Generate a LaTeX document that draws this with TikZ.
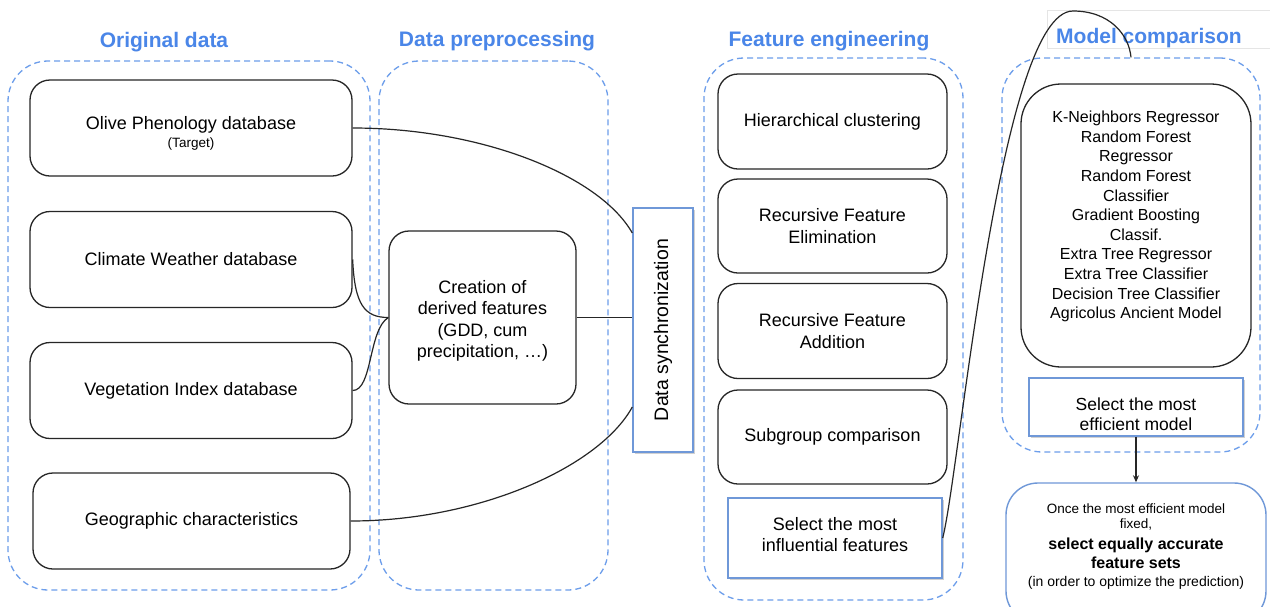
\documentclass[tikz,border=0pt]{standalone}
\usepackage{fontspec}
\setmainfont{Liberation Sans}
\usetikzlibrary{shadows,arrows.meta}
\definecolor{tblue}{HTML}{4A86E8}
\definecolor{dblue}{HTML}{6D9EEB}
\definecolor{bblue}{HTML}{6F98D8}
\newcommand{\modeltext}{K-Neighbors Regressor\\Random Forest\\Regressor\\Random Forest\\Classifier\\Gradient Boosting\\Classif.\\Extra Tree Regressor\\Extra Tree Classifier\\Decision Tree Classifier\\Agricolus Ancient Model}
\begin{document}
\begin{tikzpicture}[x=1pt,y=-1pt,
  grp/.style={draw=dblue, dash pattern=on 6pt off 4pt, line width=1.3pt, rounded corners=40pt, inner sep=0pt},
  title/.style={text=tblue, font=\fontsize{21}{25}\selectfont\bfseries, inner sep=0pt},
  bbox/.style={draw=black!85, line width=1.3pt, rounded corners=20pt, align=center, inner sep=0pt,
    font=\fontsize{18}{21.5}\selectfont},
  blbox/.style={draw=bblue, line width=1.4pt, fill=white, align=center, inner sep=0pt,
    font=\fontsize{18}{21.5}\selectfont,
    drop shadow={shadow xshift=1.5pt, shadow yshift=-2pt, fill=black, opacity=0.18}},
  conn/.style={draw=black!85, line width=1.2pt}
]
\useasboundingbox (0,0) rectangle (1270,606);
\fill[white] (0,0) rectangle (1270,606);

% faint rectangle behind the last title
\node[draw=black!10, line width=0.8pt, minimum width=228, minimum height=38, inner sep=0pt] (frame) at (1161,29) {};

% titles
\node[title] (t1) at (164,42) {Original data};
\node[title] (t2) at (497,41) {Data preprocessing};
\node[title] (t3) at (829,41) {Feature engineering};
\node[title] (t4) at (1149,38) {Model comparison};

% dashed groups
\node[grp, minimum width=362, minimum height=529] (g1) at (189,325.5) {};
\node[grp, minimum width=229, minimum height=529] (g2) at (493.5,325.5) {};
\node[grp, minimum width=259, minimum height=542] (g3) at (833.5,329) {};
\node[grp, minimum width=258, minimum height=394] (g4) at (1131,255) {};

% original data
\node[bbox, minimum width=322, minimum height=96] (olive) at (191,128)
  {\strut\\[-16pt]\raisebox{-3pt}{Olive Phenology database}\\[-1pt]{\fontsize{13.5}{16}\selectfont (Target)}};
\node[bbox, minimum width=322, minimum height=96] (clim) at (191,259.5) {Climate Weather database};
\node[bbox, minimum width=322, minimum height=96] (veg) at (191,390.5) {Vegetation Index database};
\node[bbox, minimum width=317, minimum height=96] (geo) at (191.5,521) {Geographic characteristics};

% preprocessing
\node[bbox, minimum width=187, minimum height=173] (der) at (482.5,317.5)
  {\strut\\[-16.5pt]Creation of\\ derived features\\ (GDD, cum\\ precipitation, …)};
\node[blbox, minimum width=60, minimum height=244,
  label={[rotate=90, font=\fontsize{19.5}{23}\selectfont]center:{Data synchronization}}] (sync) at (663,330) {};

% feature engineering
\node[bbox, minimum width=229, minimum height=95] (hc) at (832.5,121.5) {Hierarchical clustering};
\node[bbox, minimum width=229, minimum height=94] (rfe) at (832.5,226) {Recursive Feature\\Elimination};
\node[bbox, minimum width=229, minimum height=95] (rfa) at (832.5,331) {Recursive Feature\\Addition};
\node[bbox, minimum width=229, minimum height=94] (sub) at (832.5,437) {Subgroup comparison};
\node[blbox, minimum width=214, minimum height=80] (infl) at (835,538) {Select the most\\influential features\\[-14pt]\mbox{}};

% model comparison
\node[bbox, minimum width=230, minimum height=283, rounded corners=40pt,
  label={[align=center, yshift=9pt, font=\fontsize{16}{19.6}\selectfont]center:{\modeltext}}] (models) at (1136,225.5) {};
\node[blbox, minimum width=214, minimum height=58, font=\fontsize{17.5}{20.5}\selectfont] (eff) at (1136,407) {\strut\\[-8pt]Select the most\\efficient model};
\node[draw=bblue, line width=1.4pt, rounded corners=32pt, minimum width=260, minimum height=140, inner sep=0pt, align=center,
  font=\fontsize{14}{18.5}\selectfont] (final) at (1136,553)
  {{\fontsize{13.5}{17}\selectfont Once the most efficient model}\\[-3pt]
   {\fontsize{13.5}{17}\selectfont fixed,}\\[2pt]
   {\fontsize{16}{20}\selectfont\bfseries select equally accurate}\\[1pt]
   {\fontsize{16}{20}\selectfont\bfseries feature sets}\\[-1pt]
   {\fontsize{14}{17}\selectfont (in order to optimize the prediction)}\\[-2pt]
   {\fontsize{14}{17}\selectfont ~}};

% connectors
\path[conn] (olive.east) .. controls +(128,0) and +(-33,-58) .. ([yshift=97pt]sync.west);
\path[conn] (geo.east) .. controls +(128,0) and +(-33,60) .. ([yshift=-77pt]sync.west);
\path[conn] (clim.east) .. controls +(2,45) and +(-24,0) .. (der.west);
\path[conn] (veg.east) .. controls +(20,0) and +(-20,12) .. (der.west);
\path[conn] (der.east) -- (der.east -| sync.west);
\coordinate (peak) at (1073,11);
\path[conn] (infl.east) .. controls (960,470) and (1000,11) .. (peak) .. controls (1110,11) and (1129,35) .. (g4.north);
\path[conn, -{Stealth[length=7pt,width=6pt]}] (eff.south) -- (final.north);
\end{tikzpicture}
\end{document}
